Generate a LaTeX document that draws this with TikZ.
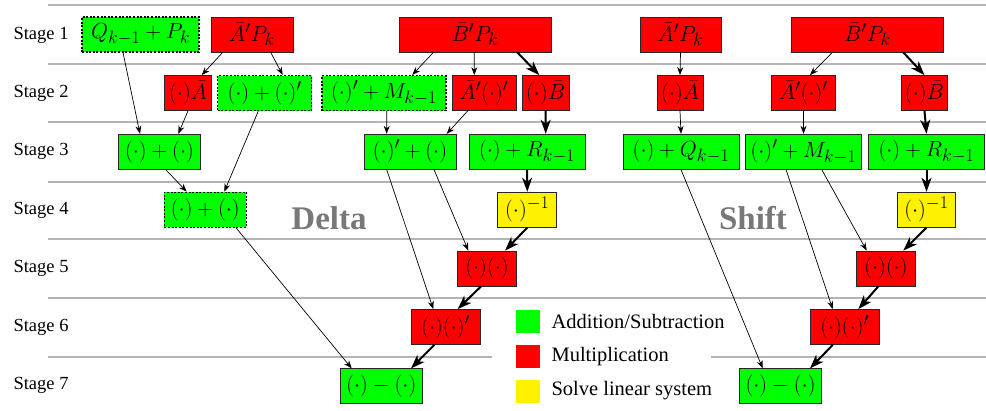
\RequirePackage{fix-cm}
\documentclass[tikz,border=0pt]{standalone}
\usepackage[no-math]{fontspec}
\newfontfamily\timesf{Liberation Serif}
\usetikzlibrary{arrows.meta}
\DeclareMathSizes{22}{22}{18}{14}
\definecolor{sepgray}{RGB}{180,180,180}
\definecolor{labgray}{RGB}{120,120,120}
\begin{document}
\begin{tikzpicture}[x=1bp,y=-1bp,
  opbox/.style={draw=black!85, line width=0.8bp, inner sep=0pt, minimum height=35bp,
                font=\fontsize{22}{26}\selectfont},
  add/.style={opbox, fill=green},
  mul/.style={opbox, fill=red},
  sol/.style={opbox, fill=yellow},
  dsh/.style={dash pattern=on 2bp off 1.6bp, line width=1.1bp, draw=black},
  ta/.style={-{Stealth[length=8bp,width=6bp]}, line width=0.7bp},
  tb/.style={-{Stealth[length=14bp,width=10bp,inset=4bp]}, line width=2bp},
  stagelab/.style={anchor=west, font=\timesf\fontsize{18.5bp}{22bp}\selectfont},
  leglab/.style={anchor=west, font=\timesf\fontsize{20.5bp}{24bp}\selectfont},
  bigl/.style={font=\timesf\bfseries\fontsize{33bp}{36bp}\selectfont, text=labgray},
  sepl/.style={draw=sepgray, line width=1.3bp}]
\useasboundingbox (0,0) rectangle (986,410);
% separators
\foreach \yy in {5,64,122,182,239,298}{\draw[sepl] (48,\yy) -- (986,\yy);}
\draw[sepl] (48,357) -- (492,357);
\draw[sepl] (711,357) -- (986,357);
% stage labels
\node[stagelab] (st1) at (10,35) {Stage 1};
\node[stagelab] (st2) at (10,93) {Stage 2};
\node[stagelab] (st3) at (10,151.5) {Stage 3};
\node[stagelab] (st4) at (10,210) {Stage 4};
\node[stagelab] (st5) at (10,268.5) {Stage 5};
\node[stagelab] (st6) at (10,327) {Stage 6};
\node[stagelab] (st7) at (10,385.5) {Stage 7};
% big labels
\node[bigl] (delta) at (329,218) {Delta};
\node[bigl] (shift) at (753,218) {Shift};
% stage 1
\node[add,dsh,minimum width=117bp] (q) at (140.5,34.5) {$Q_{k-1}+P_k$};
\node[mul,minimum width=82bp] (a1) at (252,34.5) {$\bar{A}'P_k$};
\node[mul,minimum width=152bp] (b1) at (475,34.5) {$\bar{B}'P_k$};
\node[mul,minimum width=81bp] (a1r) at (680.5,34.5) {$\bar{A}'P_k$};
\node[mul,minimum width=152bp] (b1r) at (867.5,34.5) {$\bar{B}'P_k$};
% stage 2
\node[mul,minimum width=47bp] (ca) at (188,93) {$(\cdot)\bar{A}$};
\node[add,dsh,minimum width=94bp] (cpc) at (264.7,93) {$(\cdot)+(\cdot)'$};
\node[add,dsh,minimum width=124bp] (cm) at (384,93) {$(\cdot)'+M_{k-1}$};
\node[mul,minimum width=64bp] (ac) at (484,93) {$\bar{A}'(\cdot)'$};
\node[mul,minimum width=47bp] (cb) at (545.7,93) {$(\cdot)\bar{B}$};
\node[mul,minimum width=46bp] (car) at (680,93) {$(\cdot)\bar{A}$};
\node[mul,minimum width=64bp] (acr) at (803.5,93) {$\bar{A}'(\cdot)'$};
\node[mul,minimum width=46bp] (cbr) at (924.5,93) {$(\cdot)\bar{B}$};
% stage 3
\node[add,minimum width=82bp] (s3a) at (159.5,151.7) {$(\cdot)+(\cdot)$};
\node[add,minimum width=92bp] (s3b) at (410,151.7) {$(\cdot)'+(\cdot)$};
\node[add,minimum width=116bp] (s3c) at (527,151.7) {$(\cdot)+R_{k-1}$};
\node[add,minimum width=116bp] (s3ar) at (681,151.7) {$(\cdot)+Q_{k-1}$};
\node[add,minimum width=116bp] (s3br) at (803.5,151.7) {$(\cdot)'+M_{k-1}$};
\node[add,minimum width=116bp] (s3cr) at (926.5,151.7) {$(\cdot)+R_{k-1}$};
% stage 4
\node[add,dsh,minimum width=82bp] (s4a) at (205.3,209.7) {$(\cdot)+(\cdot)$};
\node[sol,minimum width=59bp] (inv) at (527.3,209.7) {$(\cdot)^{-1}$};
\node[sol,minimum width=58bp] (invr) at (926.5,209.7) {$(\cdot)^{-1}$};
% stage 5
\node[mul,minimum width=59bp] (mm) at (487,268.5) {$(\cdot)(\cdot)$};
\node[mul,minimum width=59bp] (mmr) at (886,268.5) {$(\cdot)(\cdot)$};
% stage 6
\node[mul,minimum width=69bp] (mmp) at (445.7,327) {$(\cdot)(\cdot)'$};
\node[mul,minimum width=69bp] (mmpr) at (844.7,327) {$(\cdot)(\cdot)'$};
% stage 7
\node[add,minimum width=82bp] (sub) at (381.3,386.3) {$(\cdot)-(\cdot)$};
\node[add,minimum width=82bp] (subr) at (780.5,386.3) {$(\cdot)-(\cdot)$};
% legend
\node[fill=green,inner sep=0pt,minimum width=24bp,minimum height=23bp] (lg) at (528,321.5) {};
\node[fill=red,inner sep=0pt,minimum width=24bp,minimum height=23bp] (lr) at (528,356.5) {};
\node[fill=yellow,inner sep=0pt,minimum width=24bp,minimum height=23bp] (ly) at (528,391.5) {};
\node[leglab] (tg) at (548,321.5) {Addition/Subtraction};
\node[leglab] (tr) at (548,356.5) {Multiplication};
\node[leglab] (ty) at (548,391) {Solve linear system};
% connectors: Delta
\draw[ta] ([xshift=-17.5bp]q.south) -- ([xshift=-19.5bp]s3a.north);
\draw[ta] ([xshift=-29.3bp]a1.south) -- ([xshift=13.7bp]ca.north);
\draw[ta] ([xshift=18.7bp]a1.south) -- ([xshift=18bp]cpc.north);
\draw[ta] (ca.south) -- ([xshift=18.8bp]s3a.north);
\draw[ta] ([xshift=-6.4bp]cpc.south) -- ([xshift=19bp]s4a.north);
\draw[ta] ([xshift=6.2bp]s3a.south) -- ([xshift=-18.6bp]s4a.north);
\draw[ta] ([xshift=30.7bp]s4a.south) -- ([xshift=-29.6bp]sub.north);
\draw[ta] ([xshift=-41.7bp]b1.south) -- ([xshift=28.3bp]cm.north);
\draw[ta] ([xshift=-0.7bp]b1.south) -- ([xshift=-9.7bp]ac.north);
\draw[tb] ([xshift=42.3bp]b1.south) -- ([xshift=-6.4bp]cb.north);
\draw[ta] ([xshift=2.7bp]cm.south) -- ([xshift=-23.3bp]s3b.north);
\draw[ta] ([xshift=-16.3bp]ac.south) -- ([xshift=36.7bp]s3b.north);
\draw[tb] (cb.south) -- ([xshift=18.7bp]s3c.north);
\draw[tb] (s3c.south) -- (inv.north);
\draw[ta] ([xshift=24bp]s3b.south) -- ([xshift=-18.7bp]mm.north);
\draw[ta] ([xshift=-23.3bp]s3b.south) -- ([xshift=-12.4bp]mmp.north);
\draw[tb] (inv.south) -- ([xshift=18bp]mm.north);
\draw[tb] ([xshift=-6bp]mm.south) -- ([xshift=12bp]mmp.north);
\draw[tb] ([xshift=-11.4bp]mmp.south) -- ([xshift=29.7bp]sub.north);
% connectors: Shift
\draw[ta] (a1r.south) -- (car.north);
\draw[ta] ([xshift=-35.2bp]b1r.south) -- ([xshift=6.5bp]acr.north);
\draw[tb] ([xshift=35.8bp]b1r.south) -- (cbr.north);
\draw[ta] (car.south) -- (s3ar.north);
\draw[ta] (acr.south) -- (s3br.north);
\draw[tb] (cbr.south) -- (s3cr.north);
\draw[tb] (s3cr.south) -- (invr.north);
\draw[ta] (s3ar.south) -- ([xshift=-17.8bp]subr.north);
\draw[ta] ([xshift=-17.5bp]s3br.south) -- ([xshift=-12bp]mmpr.north);
\draw[ta] ([xshift=18.2bp]s3br.south) -- ([xshift=-19.3bp]mmr.north);
\draw[tb] (invr.south) -- ([xshift=17.3bp]mmr.north);
\draw[tb] ([xshift=-7.7bp]mmr.south) -- ([xshift=13.6bp]mmpr.north);
\draw[tb] ([xshift=-12bp]mmpr.south) -- ([xshift=29.5bp]subr.north);
\end{tikzpicture}
\end{document}
